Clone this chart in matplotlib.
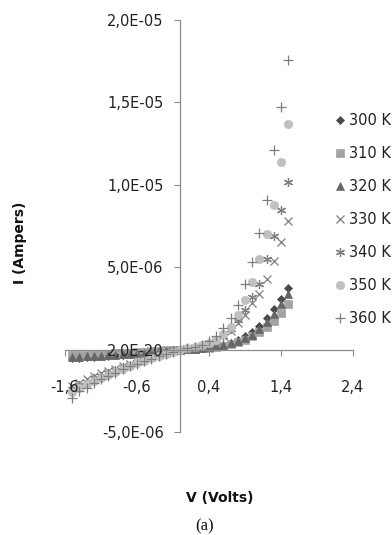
"""
I-V characteristics at several temperatures, Excel-style scatter.
"""

import numpy as np
from matplotlib import pyplot as plt

# bias voltage (V)
volts = [-1.5, -1.4, -1.3, -1.2, -1.1, -1.0, -0.9, -0.8, -0.7, -0.6, -0.5,
         -0.4, -0.3, -0.2, -0.1, 0.0, 0.1, 0.2, 0.3, 0.4, 0.5, 0.6, 0.7,
         0.8, 0.9, 1.0, 1.1, 1.2, 1.3, 1.4, 1.5]

# currents, in microampere
i_300 = [-0.50, -0.48, -0.45, -0.42, -0.40, -0.37, -0.34, -0.30, -0.27, -0.23, -0.20,
         -0.16, -0.12, -0.08, -0.04, 0.0, 0.03, 0.06, 0.10, 0.15, 0.22, 0.30, 0.42,
         0.58, 0.80, 1.08, 1.45, 1.90, 2.45, 3.05, 3.75]
i_310 = [-0.35, -0.33, -0.31, -0.29, -0.27, -0.25, -0.23, -0.21, -0.19, -0.17, -0.14,
         -0.11, -0.08, -0.05, -0.02, 0.0, 0.02, 0.05, 0.08, 0.12, 0.17, 0.24, 0.33,
         0.45, 0.60, 0.80, 1.05, 1.35, 1.75, 2.20, 2.75]
i_320 = [-0.45, -0.43, -0.41, -0.39, -0.37, -0.34, -0.31, -0.28, -0.25, -0.22, -0.18,
         -0.15, -0.11, -0.07, -0.03, 0.0, 0.03, 0.06, 0.10, 0.14, 0.20, 0.28, 0.38,
         0.52, 0.68, 0.90, 1.25, 1.65, 2.15, 2.75, 3.40]
i_330 = [-2.20, -2.00, -1.80, -1.60, -1.45, -1.30, -1.15, -1.00, -0.85, -0.72, -0.60,
         -0.46, -0.33, -0.22, -0.10, 0.0, 0.06, 0.12, 0.20, 0.32, 0.50, 0.80, 1.15,
         1.60, 2.10, 2.80, 3.40, 4.30, 5.40, 6.50, 7.80]
i_340 = [-2.40, -2.15, -1.95, -1.75, -1.58, -1.42, -1.25, -1.08, -0.93, -0.78, -0.64,
         -0.50, -0.36, -0.24, -0.11, 0.0, 0.07, 0.14, 0.24, 0.36, 0.55, 0.85, 1.25,
         1.80, 2.40, 3.20, 4.00, 5.50, 6.90, 8.50, 10.20]
i_350 = [-2.60, -2.30, -2.10, -1.88, -1.70, -1.52, -1.34, -1.16, -0.99, -0.83, -0.68,
         -0.53, -0.38, -0.25, -0.12, 0.0, 0.08, 0.16, 0.27, 0.40, 0.60, 0.95, 1.40,
         2.10, 3.00, 4.10, 5.50, 7.00, 8.80, 11.40, 13.70]
i_360 = [-2.95, -2.50, -2.30, -2.00, -1.80, -1.60, -1.40, -1.20, -1.00, -0.85, -0.70,
         -0.55, -0.40, -0.25, -0.12, 0.0, 0.08, 0.18, 0.30, 0.50, 0.80, 1.30, 1.90,
         2.70, 4.00, 5.30, 7.10, 9.10, 12.10, 14.70, 17.60]

labels = ['300 K', '310 K', '320 K', '330 K', '340 K', '350 K', '360 K']
x_ticks = [-1.6, -0.6, 0.4, 1.4, 2.4]
x_tick_labels = ['-1,6', '-0,6', '0,4', '1,4', '2,4']
y_ticks = [-5e-6, 0, 5e-6, 1e-5, 1.5e-5, 2e-5]
y_tick_labels = ['-5,0E-06', '2,0E-20', '5,0E-06', '1,0E-05', '1,5E-05', '2,0E-05']

styles = [
    dict(marker='D', color='#4a4a4a', ms=4.2),
    dict(marker='s', color='#a3a3a3', ms=5.5),
    dict(marker='^', color='#666666', ms=6.0),
    dict(marker='x', color='#7f7f7f', ms=6.0, mew=0.9),
    dict(marker=(6, 2, 0), color='#7f7f7f', ms=6.5, mew=0.9),
    dict(marker='o', color='#c0c0c0', ms=6.0),
    dict(marker='+', color='#7f7f7f', ms=7.0, mew=0.9),
]

plt.rcParams['font.family'] = ['DejaVu Sans']

fig = plt.figure(figsize=(3.92, 5.35), dpi=100)
ax = fig.add_axes([65 / 392, 1 - 432 / 535, 288 / 392, 412 / 535])

series = [i_300, i_310, i_320, i_330, i_340, i_350, i_360]
for vals, lab, st in zip(series, labels, styles):
    amps = np.array(vals) * 1e-6
    ax.plot(volts, amps, ls='none', label=lab, mec=st['color'], mfc=st['color'],
            marker=st['marker'], ms=st['ms'], mew=st.get('mew', 0.5), zorder=2)

ax.set_xlim(-1.6, 2.4)
ax.set_ylim(-5e-6, 2e-5)
ax.spines['top'].set_visible(False)
ax.spines['right'].set_visible(False)
ax.spines['left'].set_position(('data', 0))
ax.spines['bottom'].set_position(('data', 0))
for s in ('left', 'bottom'):
    ax.spines[s].set_color('#8c8c8c')
    ax.spines[s].set_linewidth(0.9)
ax.xaxis.set_zorder(3)
ax.yaxis.set_zorder(3)

ax.set_xticks(x_ticks, x_tick_labels)
ax.set_yticks(y_ticks, y_tick_labels)
ax.tick_params(axis='x', direction='out', length=4, color='#8c8c8c', pad=18,
               labelsize=10.5, labelcolor='#222222')
ax.tick_params(axis='y', direction='out', length=4, color='#8c8c8c', pad=8,
               labelsize=10.5, labelcolor='#222222')

ax.legend(loc='upper left', bbox_to_anchor=(336 / 392, 1 - 113 / 535),
          bbox_transform=fig.transFigure, frameon=False, fontsize=10.5,
          handlelength=0.6, handletextpad=0.3, labelspacing=1.24,
          borderaxespad=0, borderpad=0, labelcolor='#222222')

fig.text(20 / 392, 1 - 243 / 535, 'I (Ampers)', rotation=90, ha='center',
         va='center', fontsize=10, fontweight='bold', color='#111111')
fig.text(220 / 392, 1 - 498 / 535, 'V (Volts)', ha='center', va='center',
         fontsize=10, fontweight='bold', color='#111111')
fig.text(205 / 392, 1 - 526 / 535, '(a)', ha='center', va='center',
         fontsize=12, family='Liberation Serif', color='#111111')

fig.savefig('out.png', dpi=100)
